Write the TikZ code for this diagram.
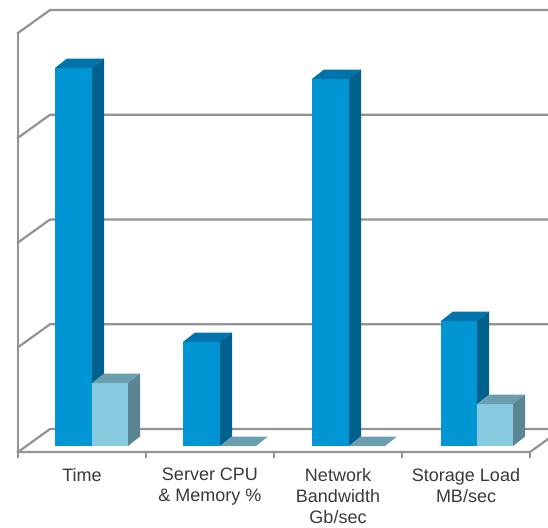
\documentclass[tikz,border=0pt]{standalone}
\usepackage{fontspec}
\setmainfont{Liberation Sans}
\definecolor{gridgray}{HTML}{939393}
\definecolor{labelgray}{HTML}{3A3A3A}
\definecolor{darkfront}{HTML}{0096D4}
\definecolor{darktop}{HTML}{0074AA}
\definecolor{darkside}{HTML}{00618E}
\definecolor{lightfront}{HTML}{88CADF}
\definecolor{lighttop}{HTML}{6B9FAF}
\definecolor{lightside}{HTML}{5A8592}
\tikzset{
  gridline/.style={draw=gridgray, line width=2.2pt, line cap=rect},
  ticklabel/.style={font=\fontsize{18}{21}\selectfont, text=labelgray,
    align=center, anchor=north, inner sep=0pt},
}
% 3D column: left x, width, top y (floor at y=446)
\newcommand\colbar[6]{%
  \fill[#4] (#1,446) rectangle ({#1+#2},#3);
  \fill[#5] (#1,#3) -- ({#1+12},{#3-9.5}) -- ({#1+#2+12},{#3-9.5}) -- ({#1+#2},#3) -- cycle;
  \fill[#6] ({#1+#2},446) -- ({#1+#2+12},436.5) -- ({#1+#2+12},{#3-9.5}) -- ({#1+#2},#3) -- cycle;
}
% zero-height column: only its top face shows
\newcommand\flatbar[2]{%
  \fill[lighttop] (#1,446) -- ({#1+12},436.5) -- ({#1+#2+12},436.5) -- ({#1+#2},446) -- cycle;
}
\begin{document}
\begin{tikzpicture}[x=1pt, y={(0pt,-1pt)}]
\useasboundingbox (0,0) rectangle (548,527);
\fill[white] (0,0) rectangle (548,527);

% back wall grid lines and left-wall diagonals
\foreach \g in {10,114.75,219.5,324.25,429} {
  \draw[gridline] (18,{\g+23}) -- (50,\g) -- (549,\g);
}
% left wall front edge and floor front edge
\draw[gridline] (18,33) -- (18,457);
\draw[gridline] (18,452) -- (530,452) -- (550,437.6);
\foreach \t in {146,274,402,530} {
  \draw[gridline] (\t,452) -- (\t,457);
}

% columns
\colbar{55}{37}{68}{darkfront}{darktop}{darkside}
\colbar{92}{36}{383}{lightfront}{lighttop}{lightside}

\colbar{183}{37}{342}{darkfront}{darktop}{darkside}
\flatbar{220}{36}

\colbar{312}{37}{79}{darkfront}{darktop}{darkside}
\flatbar{349}{36}

\colbar{441}{36}{321}{darkfront}{darktop}{darkside}
\colbar{477}{36}{404}{lightfront}{lighttop}{lightside}

% category labels
\node[ticklabel] (l1) at (82,468) {Time};
\node[ticklabel] (l2) at (210,468) {Server CPU\\\& Memory \%};
\node[ticklabel] (l3) at (338,468) {Network\\Bandwidth\\Gb/sec};
\node[ticklabel] (l4) at (466,468) {Storage Load\\MB/sec};
\end{tikzpicture}
\end{document}
